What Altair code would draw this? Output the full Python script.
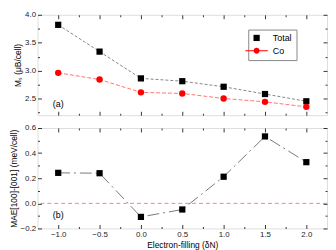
import altair as alt
import pandas as pd

# ---- data ----
fill = [-1.0, -0.5, 0.0, 0.5, 1.0, 1.5, 2.0]
ms_total = [3.82, 3.34, 2.86, 2.81, 2.71, 2.58, 2.45]
ms_co = [2.96, 2.84, 2.61, 2.59, 2.50, 2.44, 2.35]
mae = [0.243, 0.240, -0.108, -0.049, 0.212, 0.533, 0.328]

series_names = ["Total", "Co"]
series_colors = ["#000000", "#ff0000"]
# legend glyphs: plain square for Total, circle on a short line for Co
legend_shapes = [
    "square",
    "M-3.6,-0.13H-0.9V0.13H-3.6Z M0.9,-0.13H3.6V0.13H0.9Z "
    "M0.95,0A0.95,0.95 0 1,1 -0.95,0A0.95,0.95 0 1,1 0.95,0Z",
]

x_ticks = [-1.0, -0.75, -0.5, -0.25, 0.0, 0.25, 0.5, 0.75, 1.0, 1.25, 1.5, 1.75, 2.0]
ya_ticks = [2.25, 2.5, 2.75, 3.0, 3.25, 3.5, 3.75, 4.0]
yb_ticks = [-0.2, -0.1, 0.0, 0.1, 0.2, 0.3, 0.4, 0.5, 0.6]

FONT = "Liberation Sans"
W = 294
H = 102
XDOM = [-1.25, 2.25]

df_a = pd.DataFrame(
    {"x": fill * 2, "y": ms_total + ms_co,
     "s": ["Total"] * len(fill) + ["Co"] * len(fill)}
)
df_b = pd.DataFrame({"x": fill, "y": mae})


def major(step):
    return f"abs(datum.value/{step} - round(datum.value/{step})) < 0.001"


def axis(orient, ticks, step, labels=True, title=None, fmt=".1f"):
    kw = dict(
        orient=orient,
        values=ticks,
        domain=False,
        grid=False,
        offset=-4,
        tickSize=4,
        tickWidth=0.8,
        tickColor="#000",
        tickDash={"condition": {"test": major(step), "value": [4, 0]}, "value": [0, 2, 2, 0]},
        labels=labels,
        labelFont=FONT,
        labelFontSize=8,
        labelColor="#222",
        labelPadding=2,
        labelExpr=f"{major(step)} ? format(datum.value, '{fmt}') : ''",
        titleFont=FONT,
        titleFontSize=8.5,
        titleFontWeight="normal",
        titleColor="#000",
        titlePadding=2,
    )
    kw["title"] = title
    return alt.Axis(**kw)


def legend():
    return alt.Legend(title=None, orient="none", legendX=214, legendY=15,
                      labelFont=FONT, labelFontSize=9, symbolSize=40,
                      strokeColor="#888", padding=4, rowPadding=3,
                      labelOffset=12, symbolStrokeWidth=0)


# ---------- panel (a) ----------
xa = alt.X("x:Q", scale=alt.Scale(domain=XDOM, nice=False, zero=False),
           axis=axis("bottom", x_ticks, 0.5, labels=False))
ya = alt.Y("y:Q", scale=alt.Scale(domain=[2.2, 4.0], nice=False, zero=False),
           axis=axis("left", ya_ticks, 0.5, title="Mₛ (μB/cell)"))

line_total = alt.Chart(df_a).transform_filter("datum.s == 'Total'").mark_line(
    color="#666", strokeWidth=0.8, strokeDash=[3, 2]).encode(x=xa, y=ya)
line_co = alt.Chart(df_a).transform_filter("datum.s == 'Co'").mark_line(
    color="#ff5050", strokeWidth=0.8, strokeDash=[4, 2]).encode(x=xa, y=ya)
pts_total = alt.Chart(df_a).transform_filter("datum.s == 'Total'").mark_point(
    filled=True, size=40, opacity=1, shape="square", color="#000").encode(x=xa, y=ya)
pts_co = alt.Chart(df_a).transform_filter("datum.s == 'Co'").mark_point(
    filled=True, size=42, opacity=1, shape="circle", color="#ff0000").encode(x=xa, y=ya)

# legend-only layer (no marks drawn; entries come from the explicit domain)
leg = alt.Chart(df_a).transform_filter("false").mark_point(filled=True, opacity=1).encode(
    x=xa, y=ya,
    color=alt.Color("s:N", scale=alt.Scale(domain=series_names, range=series_colors),
                    legend=legend()),
    shape=alt.Shape("s:N", scale=alt.Scale(domain=series_names, range=legend_shapes),
                    legend=legend()),
)

lab_a = alt.Chart(pd.DataFrame({"x": [-1.0], "y": [2.40], "t": ["(a)"]})).mark_text(
    font=FONT, fontSize=9, color="#000").encode(x=xa, y=ya, text="t:N")

main_a = alt.layer(line_total, line_co, pts_total, pts_co, leg, lab_a)
mirror_a = alt.Chart(df_a).mark_point(opacity=0).encode(
    x=alt.X("x:Q", scale=alt.Scale(domain=XDOM, nice=False, zero=False),
            axis=axis("top", x_ticks, 0.5, labels=False)),
    y=alt.Y("y:Q", scale=alt.Scale(domain=[2.2, 4.0], nice=False, zero=False),
            axis=axis("right", ya_ticks, 0.5, labels=False)),
)
panel_a = alt.layer(main_a, mirror_a).resolve_axis(x="independent", y="independent").properties(
    width=W, height=H)

# ---------- panel (b) ----------
xb = alt.X("x:Q", scale=alt.Scale(domain=XDOM, nice=False, zero=False),
           axis=axis("bottom", x_ticks, 0.5, title="Electron-filling (δN)"))
yb = alt.Y("y:Q", scale=alt.Scale(domain=[-0.2, 0.6], nice=False, zero=False),
           axis=axis("left", yb_ticks, 0.2, title="MAE[100]-[001] (meV/cell)"))

line_b = alt.Chart(df_b).mark_line(color="#555", strokeWidth=0.8,
                                   strokeDash=[12, 4, 2, 4]).encode(x=xb, y=yb)
zero_b = alt.Chart(pd.DataFrame({"y": [0.0]})).mark_rule(
    color="#ff6060", strokeWidth=0.8, strokeDash=[4, 3]).encode(y=yb)
pts_b = alt.Chart(df_b).mark_point(filled=True, shape="square", size=40,
                                   color="#000", opacity=1).encode(x=xb, y=yb)
lab_b = alt.Chart(pd.DataFrame({"x": [-1.0], "y": [-0.09], "t": ["(b)"]})).mark_text(
    font=FONT, fontSize=9, color="#000").encode(x=xb, y=yb, text="t:N")

main_b = alt.layer(zero_b, line_b, pts_b, lab_b)
mirror_b = alt.Chart(df_b).mark_point(opacity=0).encode(
    x=alt.X("x:Q", scale=alt.Scale(domain=XDOM, nice=False, zero=False),
            axis=axis("top", x_ticks, 0.5, labels=False)),
    y=alt.Y("y:Q", scale=alt.Scale(domain=[-0.2, 0.6], nice=False, zero=False),
            axis=axis("right", yb_ticks, 0.2, labels=False)),
)
panel_b = alt.layer(main_b, mirror_b).resolve_axis(x="independent", y="independent").properties(
    width=W, height=H)

chart = alt.vconcat(panel_a, panel_b, spacing=7).properties(
    padding={"left": 0, "top": 0, "right": 0, "bottom": 0}
).configure_view(stroke="#000", strokeWidth=1).configure(background="white")

chart.save("out.html", embed_options={"renderer": "svg", "actions": False})
